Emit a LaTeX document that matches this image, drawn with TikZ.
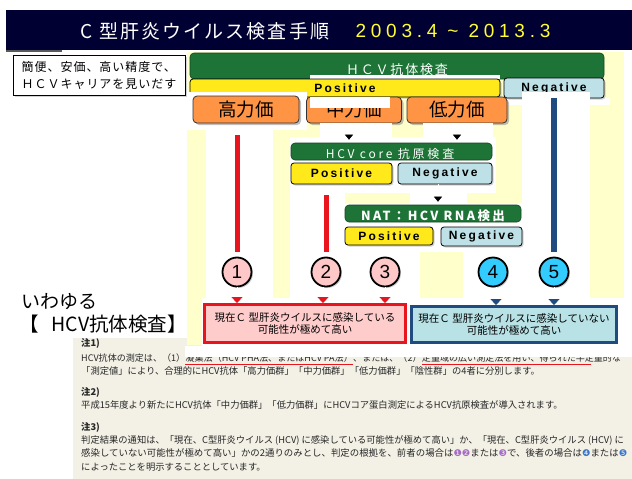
\documentclass[tikz,border=0pt]{standalone}
\usepackage{fontspec}
\usepackage{graphicx}
\setmainfont{Noto Sans CJK JP}
\newfontfamily\lsans{Liberation Sans}
\newfontfamily\dejavu{DejaVu Sans}
\newfontfamily\ttlfont[LetterSpace=11]{Noto Sans CJK JP}
\newfontfamily\datefont[LetterSpace=25]{Liberation Sans}
\newfontfamily\pnfont[LetterSpace=18]{Liberation Sans}
\newfontfamily\hafont[LetterSpace=14]{Noto Sans CJK JP}
\newfontfamily\hbfont[LetterSpace=23]{Noto Sans CJK JP}
\newfontfamily\hcfont[LetterSpace=19]{Noto Sans CJK JP}
\newfontfamily\introfont[LetterSpace=8]{Noto Sans CJK JP}
\usetikzlibrary{arrows.meta,shadows,calc}
\newcommand\mysz[1]{\fontsize{#1}{#1}\selectfont}
\newcommand\cn[2]{{\dejavu\textcolor{#1}{#2}}}
\definecolor{navy}{HTML}{000033}
\definecolor{tyellow}{HTML}{FFFF33}
\definecolor{hgreen}{HTML}{1D7436}
\definecolor{pyellow}{HTML}{FFE91A}
\definecolor{nblue}{HTML}{BDE1E6}
\definecolor{orng}{HTML}{FF9444}
\definecolor{panel}{HTML}{FFFFCC}
\definecolor{lred}{HTML}{E8141E}
\definecolor{dblue}{HTML}{1F4B80}
\definecolor{cpink}{HTML}{FFC8C8}
\definecolor{ccyan}{HTML}{33CCFF}
\definecolor{rfill}{HTML}{FFCCCC}
\definecolor{bfill}{HTML}{B8E2E6}
\definecolor{beige}{HTML}{F3F1E6}
\definecolor{ntext}{HTML}{262626}
\definecolor{npurple}{HTML}{A46CC8}
\definecolor{nblue2}{HTML}{3C78C8}
\tikzset{
  shad/.style={drop shadow={shadow xshift=1.5pt,shadow yshift=-1.5pt,opacity=.35}},
  hdr/.style={fill=hgreen,draw=hgreen!60!black,line width=.6pt,rounded corners=4pt,inner sep=0},
  hdrtxt/.style={text=white,inner sep=0},
  posbox/.style={fill=pyellow,draw=black,line width=.8pt,rounded corners=3pt,inner sep=0,
     font=\mysz{12}\pnfont\bfseries,shad},
  negbox/.style={posbox,fill=nblue},
  obox/.style={fill=orng,draw=black!80,line width=.8pt,rounded corners=4pt,inner sep=0,
     font=\mysz{18.5},drop shadow={shadow xshift=2pt,shadow yshift=-2pt,opacity=.5}},
  circ/.style={circle,draw=black,line width=1.8pt,minimum size=29pt,inner sep=0,
     font=\mysz{19}\lsans,shad},
  rline/.style={lred,line width=5pt,shorten >=5pt},
  bline/.style={dblue,line width=6pt,shorten >=5pt},
  hidarrow/.style={draw=white,line width=.3pt,-{Triangle[length=5pt,width=8pt,color=black]}},
  redtip/.style={draw=white,line width=.3pt,-{Triangle[length=6pt,width=11pt,color=lred]}},
  bluetip/.style={draw=white,line width=.3pt,-{Triangle[length=6pt,width=11pt,color=dblue]}},
  resbox/.style={line width=3pt,inner sep=0,align=center,font=\fontsize{10.5}{12.5}\selectfont,
     drop shadow={shadow xshift=1.5pt,shadow yshift=-1.5pt,opacity=.3}},
  note/.style={inner sep=0,text=ntext,font=\fontsize{9.3}{11}\selectfont},
  note1/.style={inner sep=0,text=ntext,font=\fontsize{9.05}{11}\selectfont},
  uline/.style={lred,line width=.8pt}
}
\begin{document}
\begin{tikzpicture}[x=1pt,y=-1pt]
\useasboundingbox (0,0) rectangle (632,479);
\fill[white] (0,0) rectangle (632,479);
\fill[beige] (73,338) rectangle (632,479);
% title bar
\fill[navy] (6,10) rectangle (632,50);
\fill[black!65] (6,50) rectangle (62,52);
\node[inner sep=0,text=white,font=\mysz{19}\ttlfont] (ttl) at (205,31) {C 型肝炎ウイルス検査手順};
\node[inner sep=0,text=tyellow,font=\mysz{19}\datefont] (dt) at (453,31) {2003.4 \textasciitilde{} 2013.3};
% intro box
\node[draw=black,fill=white,line width=.8pt,minimum width=172pt,minimum height=40pt,inner sep=0,
  align=left,font=\fontsize{12}{17}\selectfont\introfont,shad] (intro) at (99,75)
  {簡便、安価、高い精度で、\\ＨＣＶキャリアを見いだす};
% panel
\fill[panel] (187,52) rectangle (624,345);
\fill[white] (206,123) rectangle (273,300);
\fill[white] (213,123) rectangle (283,130);
\fill[white] (290,137) rectangle (496,193);
\fill[white] (410,193) rectangle (467,203);
\fill[white] (290,193) rectangle (345,300);
\fill[white] (340,203) rectangle (524,252);
\fill[white] (345,250) rectangle (420,300);
\fill[white] (463,250) rectangle (522,300);
\fill[white] (500,98) rectangle (610,105);
% antibody test
\node[hdr,minimum width=414pt,minimum height=26pt] (h1) at (397,66) {};
\node[hdrtxt,font=\mysz{13}\hafont] (h1t) at (397,70) {ＨＣＶ抗体検査};
\fill[white] (310,75) rectangle (500,79);
\node[posbox,minimum width=310pt,minimum height=18pt] (p1) at (345,88) {Positive};
\node[negbox,minimum width=100pt,minimum height=20pt] (n1) at (554,88) {Negative};
\fill[white] (187,92) rectangle (307,130);
\fill[white] (522,92) rectangle (590,300);
\node[obox,minimum width=106pt,minimum height=27pt] (hi) at (246,109.5) {高力価};
\node[obox,minimum width=95pt,minimum height=26pt] (mi) at (354,110) {中力価};
\node[obox,minimum width=100pt,minimum height=26pt] (lo) at (457,110) {低力価};
\fill[white] (310,97) rectangle (390,108);
\fill[white] (320,123) rectangle (392,137);
\fill[white] (423,123) rectangle (493,137);
% core antigen
\node[hdr,minimum width=201pt,minimum height=17pt] (h2) at (391.5,151.5) {};
\node[hdrtxt,font=\mysz{12}\hbfont] (h2t) at (390,154) {HCV core 抗原検査};
\coordinate (a1) at (349,0);
\coordinate (a2) at (457,0);
\draw[hidarrow] (mi.south -| a1) -- ($(h2.north -| a1)+(0,-3)$);
\draw[hidarrow] (lo.south -| a2) -- ($(h2.north -| a2)+(0,-3)$);
\node[posbox,minimum width=101pt,minimum height=21pt] (p2) at (341.5,173.5) {Positive};
\node[negbox,minimum width=94pt,minimum height=21pt] (n2) at (445,173.5) {Negative};
% NAT
\node[hdr,minimum width=176pt,minimum height=17pt] (h3) at (433,213.5) {};
\node[hdrtxt,font=\mysz{12.5}\hcfont\bfseries] (h3t) at (433,216) {NAT：HCV RNA検出};
\coordinate (a3) at (438,0);
\draw[hidarrow] (n2.south -| a3) -- ($(h3.north -| a3)+(0,-3)$);
\node[posbox,minimum width=88pt,minimum height=18pt] (p3) at (389,236) {Positive};
\node[negbox,minimum width=81pt,minimum height=19pt] (n3) at (481.5,236.5) {Negative};
% circles
\node[circ,fill=cpink] (c1) at (237,272) {1};
\node[circ,fill=cpink] (c2) at (326,272) {2};
\node[circ,fill=cpink] (c3) at (385,272) {3};
\node[circ,fill=ccyan] (c4) at (493,272) {4};
\node[circ,fill=ccyan] (c5) at (554,272) {5};
\coordinate (l1) at (237,135);
\coordinate (l2) at (326,195);
\draw[rline] (l1) -- (c1.north);
\draw[rline] (l2) -- (c2.north);
\draw[bline] (n1.south -| c5) -- (c5.north);
% results
\fill[white] (202,298) rectangle (632,348);
\node[resbox,draw=lred,fill=rfill,minimum width=201pt,minimum height=38pt] (r1) at (305,323.5)
  {現在Ｃ 型肝炎ウイルスに感染している\\可能性が極めて高い};
\node[resbox,draw=dblue,fill=bfill,minimum width=205pt,minimum height=36pt] (r2) at (514,324.5)
  {現在Ｃ 型肝炎ウイルスに感染していない\\可能性が極めて高い};
\draw[redtip] (c1.south) -- (c1.south |- r1.north);
\draw[redtip] ($(c2.south)+(-3,0)$) -- ($(c2.south |- r1.north)+(-3,0)$);
\draw[redtip] (c3.south) -- (c3.south |- r1.north);
\draw[bluetip] ($(c4.south)+(3,0)$) -- ($(c4.south |- r2.north)+(3,0)$);
\draw[bluetip] (c5.south) -- (c5.south |- r2.north);
% left text
\node[anchor=west,inner sep=0,font=\mysz{19}] (iw) at (21,302) {いわゆる};
\node[anchor=west,inner sep=0,font=\mysz{19.5}] (hk) at (19,324) {【\hspace{13pt}HCV抗体検査】};
% notes
\node[note,anchor=base west,font=\fontsize{9.3}{11}\selectfont\bfseries] (k1) at (81,346.5) {注1)};
\node[note1,anchor=base west] (L1a) at (81,361.5) {HCV抗体の測定は、（1）};
\node[note1,anchor=base west] (L1b) at (L1a.base east) {凝集法（HCV PHA法、またはHCV PA法）};
\node[note1,anchor=base west] (L1c) at (L1b.base east) {、または、（2）};
\node[note1,anchor=base west] (L1d) at (L1c.base east) {定量域の広い測定法を用い、得られた半定量的な};
\draw[uline] ([yshift=-2.5pt]L1b.base west) -- ([yshift=-2.5pt]L1b.base east);
\draw[uline] ([yshift=-2.5pt]L1d.base west) -- ([yshift=-2.5pt,xshift=-30pt]L1d.base east);
\node[note,anchor=base west] (L2) at (81,374) {「測定値」により、合理的にHCV抗体「高力価群」「中力価群」「低力価群」「陰性群」の4者に分別します。};
\node[note,anchor=base west,font=\fontsize{9.3}{11}\selectfont\bfseries] (k2) at (81,395.5) {注2)};
\node[note,anchor=base west] (L3) at (81,408.5) {平成15年度より新たにHCV抗体「中力価群」「低力価群」にHCVコア蛋白測定によるHCV抗原検査が導入されます。};
\node[note,anchor=base west,font=\fontsize{9.3}{11}\selectfont\bfseries] (k3) at (81,430.5) {注3)};
\node[note,anchor=base west] (L4) at (81,443.5) {判定結果の通知は、「現在、C型肝炎ウイルス (HCV) に感染している可能性が極めて高い」か、「現在、C型肝炎ウイルス (HCV) に};
\node[note,anchor=base west] (L5) at (81,456.5) {\resizebox{546pt}{\height}{感染していない可能性が極めて高い」かの2通りのみとし、判定の根拠を、前者の場合は\cn{npurple}{❶}\cn{npurple}{❷}または\cn{npurple}{❸}で、後者の場合は\cn{nblue2}{❹}または\cn{nblue2}{❺}}};
\node[note,anchor=base west] (L6) at (81,470.5) {によったことを明示することとしています。};
\fill[white] (185,346) rectangle (632,356.5);
\end{tikzpicture}
\end{document}
